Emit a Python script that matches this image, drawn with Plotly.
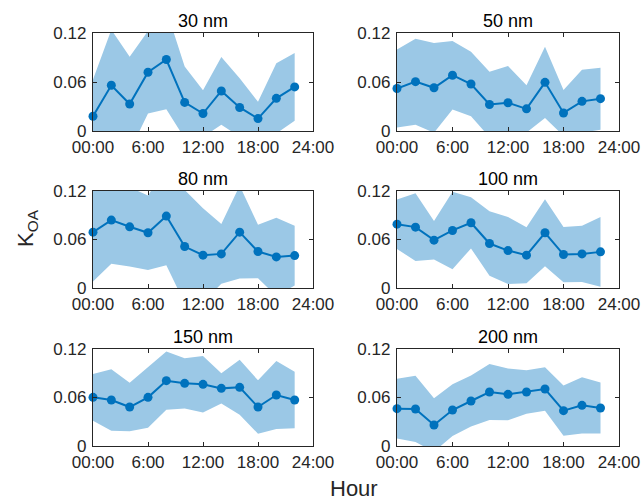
import plotly.graph_objects as go

hours = [0, 2, 4, 6, 8, 10, 12, 14, 16, 18, 20, 22]
titles = ["30 nm", "50 nm", "80 nm", "100 nm", "150 nm", "200 nm"]

mean_30 = [0.018, 0.056, 0.033, 0.072, 0.0875, 0.035, 0.0214, 0.049, 0.0288, 0.0152, 0.040, 0.054]
std_30 = [0.045, 0.068, 0.058, 0.0505, 0.061, 0.044, 0.0286, 0.0415, 0.0357, 0.0206, 0.043, 0.0415]

mean_50 = [0.052, 0.0604, 0.0529, 0.0683, 0.0575, 0.0325, 0.0346, 0.0271, 0.0596, 0.0221, 0.0363, 0.0396]
std_50 = [0.0477, 0.0527, 0.055, 0.042, 0.0395, 0.040, 0.045, 0.029, 0.0437, 0.028, 0.0387, 0.038]

mean_80 = [0.0691, 0.084, 0.0757, 0.0683, 0.089, 0.0513, 0.0406, 0.0422, 0.0691, 0.0451, 0.0385, 0.0401]
std_80 = [0.061, 0.054, 0.049, 0.046, 0.061, 0.070, 0.058, 0.037, 0.0575, 0.033, 0.0485, 0.037]

mean_100 = [0.079, 0.0753, 0.0592, 0.0712, 0.0807, 0.055, 0.0463, 0.0406, 0.0683, 0.0414, 0.0422, 0.0447]
std_100 = [0.0306, 0.042, 0.0238, 0.048, 0.0317, 0.040, 0.0415, 0.0347, 0.0414, 0.0342, 0.0347, 0.043]

mean_150 = [0.0602, 0.0569, 0.0482, 0.0602, 0.0808, 0.0775, 0.0763, 0.0713, 0.0726, 0.0482, 0.0631, 0.0569]
std_150 = [0.029, 0.038, 0.030, 0.0375, 0.036, 0.031, 0.035, 0.0186, 0.034, 0.033, 0.042, 0.035]

mean_200 = [0.0462, 0.0458, 0.026, 0.0445, 0.0557, 0.0668, 0.0639, 0.0668, 0.0705, 0.0437, 0.0503, 0.047]
std_200 = [0.037, 0.041, 0.033, 0.032, 0.0315, 0.0346, 0.032, 0.027, 0.027, 0.031, 0.0347, 0.0316]

means = [mean_30, mean_50, mean_80, mean_100, mean_150, mean_200]
stds = [std_30, std_50, std_80, std_100, std_150, std_200]

x_ticks = [0, 6, 12, 18, 24]
x_ticktext = ["00:00", "6:00", "12:00", "18:00", "24:00"]
y_ticks = [0, 0.06, 0.12]
y_ticktext = ["0", "0.06", "0.12"]

W, H = 643, 500
col_px = [(93, 313), (397, 619)]
row_px = [(33, 131), (191, 288), (349, 446)]

LINE = "#0072BD"
BAND = "rgba(155,200,230,1)"
AX = "#262626"
FONT = "Arial, Liberation Sans, sans-serif"

fig = go.Figure()
layout = {}
annotations = []
for i in range(6):
    r, c = divmod(i, 2)
    n = "" if i == 0 else str(i + 1)
    xa, ya = "x" + n, "y" + n
    upper = [m + s for m, s in zip(means[i], stds[i])]
    lower = [m - s for m, s in zip(means[i], stds[i])]
    fig.add_trace(go.Scatter(x=hours + hours[::-1], y=upper + lower[::-1], fill="toself",
                             fillcolor=BAND, line=dict(width=0), mode="lines",
                             hoverinfo="skip", showlegend=False, xaxis=xa, yaxis=ya))
    fig.add_trace(go.Scatter(x=hours, y=means[i], mode="lines+markers",
                             line=dict(color=LINE, width=2),
                             marker=dict(color=LINE, size=9),
                             cliponaxis=False, showlegend=False, xaxis=xa, yaxis=ya))
    x0, x1 = col_px[c]
    y0, y1 = row_px[r]
    common = dict(showline=True, mirror="ticks", linecolor=AX, linewidth=1.3,
                  ticks="inside", ticklen=4, tickcolor=AX, showgrid=False,
                  zeroline=False, automargin=False,
                  tickfont=dict(family=FONT, size=17, color=AX))
    layout["xaxis" + n] = dict(domain=[x0 / W, x1 / W], range=[0, 24],
                               tickvals=x_ticks, ticktext=x_ticktext,
                               anchor=ya, **common)
    layout["yaxis" + n] = dict(domain=[1 - y1 / H, 1 - y0 / H], range=[0, 0.12],
                               tickvals=y_ticks, ticktext=y_ticktext,
                               ticklabelstandoff=2,
                               anchor=xa, **common)
    annotations.append(dict(text=titles[i], x=(x0 + x1) / 2 / W, y=1 - y0 / H,
                            xref="paper", yref="paper", xanchor="center", yanchor="bottom",
                            yshift=0, showarrow=False,
                            font=dict(family=FONT, size=18, color="black")))

annotations.append(dict(text="K<sub>OA</sub>", x=27 / W, y=1 - 228 / H, xref="paper", yref="paper",
                        xanchor="center", yanchor="middle", textangle=-90, showarrow=False,
                        font=dict(family=FONT, size=22, color=AX)))
annotations.append(dict(text="Hour", x=354 / W, y=1 - 488 / H, xref="paper", yref="paper",
                        xanchor="center", yanchor="middle", showarrow=False,
                        font=dict(family=FONT, size=22, color=AX)))

fig.update_layout(width=W, height=H, margin=dict(l=0, r=0, t=0, b=0),
                  plot_bgcolor="white", paper_bgcolor="white",
                  annotations=annotations, **layout)
fig.write_html("out.html", config={"displayModeBar": False},
               post_script="document.body.style.margin='0';")
